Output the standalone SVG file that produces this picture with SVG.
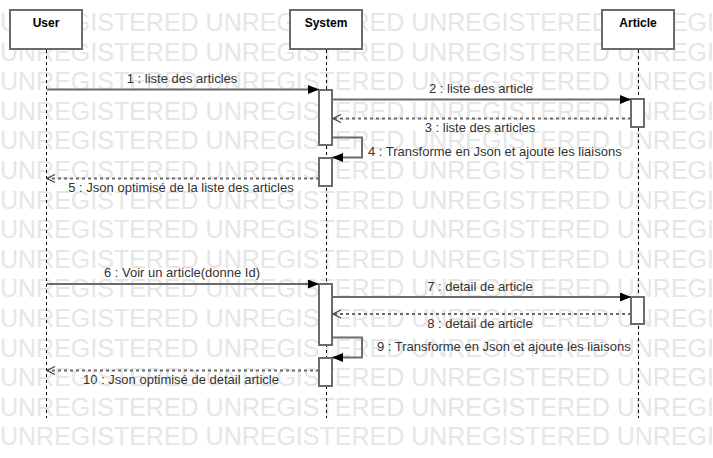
<svg xmlns="http://www.w3.org/2000/svg" width="713" height="458" viewBox="0 0 713 458">
<defs>
<style>
.wm{font-family:"Liberation Sans",Arial,sans-serif;font-size:25px;fill:#e6e6e6}
.box{fill:#fff;stroke:#6b6b6b;stroke-width:2}
.hdr{font-family:"Liberation Sans",Arial,sans-serif;font-size:12px;font-weight:bold;fill:#000;text-anchor:middle}
.life{stroke:#000;stroke-width:1;stroke-dasharray:3 3;fill:none}
.act{fill:#fff;stroke:#6b6b6b;stroke-width:2}
.msg{stroke:#6b6b6b;stroke-width:2;fill:none}
.ret{stroke:#6b6b6b;stroke-width:2;stroke-dasharray:3 3;fill:none}
.lbl{font-family:"Liberation Sans",Arial,sans-serif;font-size:13px;fill:#333}
.mid{text-anchor:middle}
</style>
<marker id="af" markerWidth="11" markerHeight="9" refX="11" refY="4.5" orient="auto" markerUnits="userSpaceOnUse"><path d="M0,0 L11,4.5 L0,9 z" fill="#000"/></marker>
<marker id="ao" markerWidth="10" markerHeight="10" refX="9" refY="5" orient="auto" markerUnits="userSpaceOnUse"><path d="M1,1 L9,5 L1,9" fill="none" stroke="#444" stroke-width="1.2"/></marker>
</defs>
<rect width="713" height="458" fill="#fff"/>
<g id="watermark">
<text class="wm" x="0" y="31">UNREGISTERED UNREGISTERED UNREGISTERED UNREGISTERED</text>
<text class="wm" x="0" y="60.6">UNREGISTERED UNREGISTERED UNREGISTERED UNREGISTERED</text>
<text class="wm" x="0" y="90.2">UNREGISTERED UNREGISTERED UNREGISTERED UNREGISTERED</text>
<text class="wm" x="0" y="119.8">UNREGISTERED UNREGISTERED UNREGISTERED UNREGISTERED</text>
<text class="wm" x="0" y="149.4">UNREGISTERED UNREGISTERED UNREGISTERED UNREGISTERED</text>
<text class="wm" x="0" y="179">UNREGISTERED UNREGISTERED UNREGISTERED UNREGISTERED</text>
<text class="wm" x="0" y="208.6">UNREGISTERED UNREGISTERED UNREGISTERED UNREGISTERED</text>
<text class="wm" x="0" y="238.2">UNREGISTERED UNREGISTERED UNREGISTERED UNREGISTERED</text>
<text class="wm" x="0" y="267.8">UNREGISTERED UNREGISTERED UNREGISTERED UNREGISTERED</text>
<text class="wm" x="0" y="297.4">UNREGISTERED UNREGISTERED UNREGISTERED UNREGISTERED</text>
<text class="wm" x="0" y="327">UNREGISTERED UNREGISTERED UNREGISTERED UNREGISTERED</text>
<text class="wm" x="0" y="356.6">UNREGISTERED UNREGISTERED UNREGISTERED UNREGISTERED</text>
<text class="wm" x="0" y="386.2">UNREGISTERED UNREGISTERED UNREGISTERED UNREGISTERED</text>
<text class="wm" x="0" y="415.8">UNREGISTERED UNREGISTERED UNREGISTERED UNREGISTERED</text>
<text class="wm" x="0" y="445.4">UNREGISTERED UNREGISTERED UNREGISTERED UNREGISTERED</text>
</g>
<g id="user">
<line class="life" x1="46.5" y1="50" x2="46.5" y2="418"/>
<rect class="box" x="10" y="10" width="72" height="39"/>
<text class="hdr" x="46" y="27">User</text>
</g>
<g id="system">
<line class="life" x1="326.5" y1="50" x2="326.5" y2="418"/>
<rect class="box" x="290" y="10" width="72" height="39"/>
<text class="hdr" x="326" y="27">System</text>
<rect class="act" x="319" y="90" width="13" height="55"/>
<rect class="act" x="319" y="158" width="13" height="28"/>
<rect class="act" x="319" y="284" width="13" height="61"/>
<rect class="act" x="319" y="358" width="13" height="28"/>
</g>
<g id="article">
<line class="life" x1="638.5" y1="50" x2="638.5" y2="418"/>
<rect class="box" x="602" y="10" width="72" height="39"/>
<text class="hdr" x="638" y="27">Article</text>
<rect class="act" x="631" y="99" width="13" height="28"/>
<rect class="act" x="631" y="297" width="13" height="27"/>
</g>
<g id="connectors">
<line class="msg" x1="47" y1="89.5" x2="319" y2="89.5" marker-end="url(#af)"/>
<text class="lbl mid" x="182" y="83">1 : liste des articles</text>
<line class="msg" x1="332" y1="99.5" x2="631" y2="99.5" marker-end="url(#af)"/>
<text class="lbl mid" x="481" y="93">2 : liste des article</text>
<line class="ret" x1="631" y1="118.5" x2="333" y2="118.5" marker-end="url(#ao)"/>
<text class="lbl mid" x="480" y="132">3 : liste des articles</text>
<path class="msg" d="M332,137.5 H362 V157.5 H332" marker-end="url(#af)"/>
<text class="lbl" x="368" y="156">4 : Transforme en Json et ajoute les liaisons</text>
<line class="ret" x1="319" y1="178.5" x2="47" y2="178.5" marker-end="url(#ao)"/>
<text class="lbl mid" x="181" y="192">5 : Json optimisé de la liste des articles</text>
<line class="msg" x1="47" y1="284" x2="319" y2="284" marker-end="url(#af)"/>
<text class="lbl mid" x="182" y="277">6 : Voir un article(donne Id)</text>
<line class="msg" x1="332" y1="297" x2="631" y2="297" marker-end="url(#af)"/>
<text class="lbl mid" x="480" y="291">7 : detail de article</text>
<line class="ret" x1="631" y1="314" x2="333" y2="314" marker-end="url(#ao)"/>
<text class="lbl mid" x="480" y="328">8 : detail de article</text>
<path class="msg" d="M332,337.5 H362 V357.5 H332" marker-end="url(#af)"/>
<text class="lbl" x="377" y="351">9 : Transforme en Json et ajoute les liaisons</text>
<line class="ret" x1="319" y1="370.5" x2="47" y2="370.5" marker-end="url(#ao)"/>
<text class="lbl mid" x="181" y="384">10 : Json optimisé de detail article</text>
</g>
</svg>
